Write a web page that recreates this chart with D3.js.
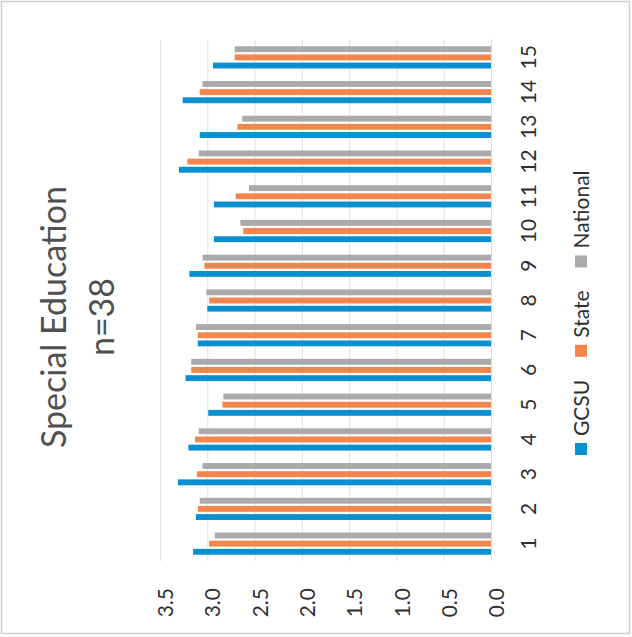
<!DOCTYPE html>
<html>
<head>
<meta charset="utf-8">
<script src="https://cdn.jsdelivr.net/npm/d3@7"></script>
<style>
  html, body { margin: 0; padding: 0; background: #ffffff; }
  svg { display: block; }
  text { font-family: Lato, "Open Sans", "DejaVu Sans", sans-serif; }
</style>
</head>
<body>
<svg id="chart" width="632" height="637"></svg>
<script>
// Survey items 1–15, mean scores for three groups
const categories = ["1","2","3","4","5","6","7","8","9","10","11","12","13","14","15"];
const seriesNames = ["GCSU", "State", "National"];
const gcsuValues     = [3.15, 3.12, 3.31, 3.20, 2.99, 3.23, 3.10, 3.00, 3.19, 2.93, 2.93, 3.30, 3.08, 3.26, 2.94];
const stateValues    = [2.98, 3.10, 3.11, 3.13, 2.84, 3.17, 3.10, 2.98, 3.03, 2.62, 2.70, 3.21, 2.68, 3.08, 2.71];
const nationalValues = [2.92, 3.08, 3.05, 3.09, 2.83, 3.17, 3.12, 3.01, 3.05, 2.65, 2.56, 3.09, 2.63, 3.05, 2.71];
const valueTicks = [0, 0.5, 1.0, 1.5, 2.0, 2.5, 3.0, 3.5];
const titleLines = ["Special Education", "n=38"];
const seriesColors = ["#0a8fd0", "#f3854d", "#aaaaaa"];

const seriesValues = [gcsuValues, stateValues, nationalValues];
const rows = categories.map((c, i) => ({
  cat: c,
  vals: seriesNames.map((s, j) => ({ series: s, value: seriesValues[j][i], color: seriesColors[j] }))
}));

const svg = d3.select("#chart");
const W = 637, H = 632; // inner (unrotated) frame

// Faint frame around the whole chart area
svg.append("rect")
  .attr("x", 1.5).attr("y", 1.5).attr("width", 628).attr("height", 632)
  .attr("fill", "none").attr("stroke", "#d0d0d0").attr("stroke-width", 1.5);

// The column chart is laid out upright, then turned a quarter turn counter-clockwise
const g = svg.append("g").attr("transform", `translate(0,${W}) rotate(-90)`);

const plot = { left: 76, right: 597, top: 160, bottom: 491 };

const x0 = d3.scaleBand()
  .domain(categories)
  .range([plot.left, plot.right])
  .paddingInner(0.36)
  .paddingOuter(0.18);

const x1 = d3.scaleBand()
  .domain(seriesNames)
  .range([0, x0.bandwidth()])
  .paddingInner(0.28);

const y = d3.scaleLinear().domain([0, 3.5]).range([plot.bottom, plot.top]);

// Value axis with gridlines
const yAxis = g.append("g")
  .attr("transform", `translate(${plot.left},0)`)
  .call(d3.axisLeft(y)
    .tickValues(valueTicks)
    .tickFormat(d3.format(".1f"))
    .tickSizeInner(-(plot.right - plot.left))
    .tickSizeOuter(0)
    .tickPadding(27));
yAxis.select(".domain").remove();
yAxis.selectAll(".tick line").attr("stroke", "#e1e1e1").attr("stroke-width", 1);
yAxis.selectAll(".tick text")
  .attr("dy", "0.6em")
  .attr("fill", "#2f2f2f")
  .style("font-size", "21px")
  .style("font-family", "Lato, sans-serif");

// Category axis
const xAxis = g.append("g")
  .attr("transform", `translate(0,${plot.bottom})`)
  .call(d3.axisBottom(x0).tickSize(0).tickPadding(30));
xAxis.select(".domain").attr("stroke", "#dcdcdc");
xAxis.selectAll(".tick text")
  .attr("fill", "#2f2f2f")
  .style("font-size", "21px")
  .style("font-family", "Lato, sans-serif");

// Bars
g.append("g").selectAll("g")
  .data(rows)
  .join("g")
  .attr("transform", d => `translate(${x0(d.cat)},0)`)
  .selectAll("rect")
  .data(d => d.vals)
  .join("rect")
  .attr("x", d => x1(d.series))
  .attr("width", x1.bandwidth())
  .attr("y", d => y(d.value))
  .attr("height", d => y(0) - y(d.value))
  .attr("fill", d => d.color);

// Title
const title = g.append("text")
  .attr("x", 320)
  .attr("text-anchor", "middle")
  .attr("fill", "#505050")
  .style("font-size", "34px")
  .style("font-weight", 400);
title.selectAll("tspan")
  .data(titleLines)
  .join("tspan")
  .attr("x", 320)
  .attr("y", (d, i) => i === 0 ? 66 : 114)
  .text(d => d);

// Legend
const legend = g.append("g").attr("transform", "translate(182,575)");
let cursor = 0;
seriesNames.forEach((name, i) => {
  const item = legend.append("g").attr("transform", `translate(${cursor},0)`);
  item.append("rect").attr("width", 12).attr("height", 12).attr("fill", seriesColors[i]);
  const t = item.append("text")
    .attr("x", 19).attr("y", 14)
    .attr("fill", "#2f2f2f")
    .style("font-size", "21px")
    .text(name);
  cursor += 19 + t.node().getComputedTextLength() + 23;
});
</script>
</body>
</html>
